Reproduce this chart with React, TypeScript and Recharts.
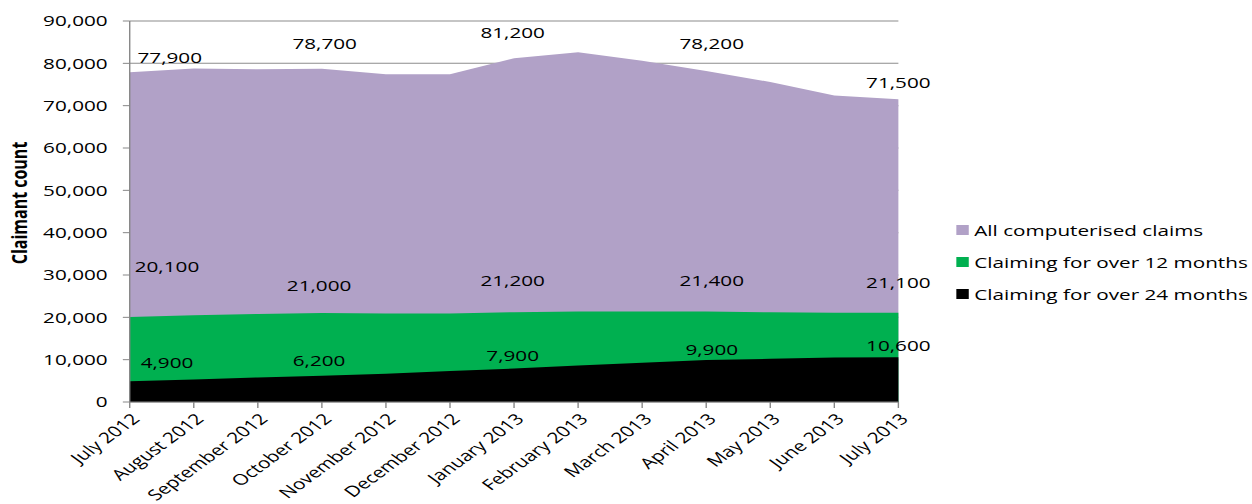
import React from 'react'
import { AreaChart, Area, XAxis, YAxis, CartesianGrid, LabelList } from 'recharts'

// --- data ---
const MONTHS = [
  'July 2012',
  'August 2012',
  'September 2012',
  'October 2012',
  'November 2012',
  'December 2012',
  'January 2013',
  'February 2013',
  'March 2013',
  'April 2013',
  'May 2013',
  'June 2013',
  'July 2013',
]

const ALL_CLAIMS = [77900, 78800, 78600, 78700, 77400, 77400, 81200, 82600, 80600, 78200, 75600, 72400, 71500]
const OVER_12_MONTHS = [20100, 20500, 20800, 21000, 20900, 20900, 21200, 21400, 21400, 21400, 21200, 21100, 21100]
const OVER_24_MONTHS = [4900, 5300, 5800, 6200, 6700, 7300, 7900, 8600, 9300, 9900, 10200, 10500, 10600]

const LABELLED_POINTS = [0, 3, 6, 9, 12]
const Y_TICKS = [0, 10000, 20000, 30000, 40000, 50000, 60000, 70000, 80000, 90000]

// --- styling ---
// the reference picture is stretched sideways, so draw narrow and scale the whole chart in x
const STRETCH = 1.38
const WIDTH = 907
const HEIGHT = 504
const FONT = '"Open Sans", sans-serif'
const AXIS_GREY = '#868686'

const SERIES = [
  { key: 'all', name: 'All computerised claims', color: '#B1A1C7' },
  { key: 'over12', name: 'Claiming for over 12 months', color: '#00B050' },
  { key: 'over24', name: 'Claiming for over 24 months', color: '#000000' },
]

// label offsets (dx, dy of label centre from the point), one per labelled point
const LABEL_OFFSETS: Record<string, [number, number][]> = {
  all: [[29, -15], [2, -25], [-1, -26], [4, -27], [0, -17]],
  over12: [[27, -50], [-2, -27], [-1, -32], [4, -31], [0, -30]],
  over24: [[27, -19], [-2, -15], [-1, -13], [4, -10], [0, -12]],
}

const fmt = (v: number) => v.toLocaleString('en-US')

function makeLabel(seriesKey: string) {
  return (props: any) => {
    const { x, y, value, index } = props
    const slot = LABELLED_POINTS.indexOf(index)
    if (slot < 0) return null
    const [dx, dy] = LABEL_OFFSETS[seriesKey][slot]
    return (
      <text
        x={x + dx}
        y={y + dy + 5.4}
        textAnchor="middle"
        fontSize={15}
        fontFamily={FONT}
        fill="#000"
      >
        {fmt(value)}
      </text>
    )
  }
}

function MonthTick(props: any) {
  const { x, y, payload } = props
  return (
    <g transform={`translate(${x + 8},${y + 10}) rotate(-45)`}>
      <text x={0} y={0} textAnchor="end" fontSize={15} fontFamily={FONT} fill="#000">
        {payload.value}
      </text>
    </g>
  )
}

export default function App() {
  const data = MONTHS.map((month, i) => ({
    month,
    all: ALL_CLAIMS[i],
    over12: OVER_12_MONTHS[i],
    over24: OVER_24_MONTHS[i],
  }))

  return (
    <div
      style={{
        position: 'absolute',
        left: 0,
        top: 0,
        width: WIDTH,
        height: HEIGHT,
        transform: `scaleX(${STRETCH})`,
        transformOrigin: '0 0',
        fontFamily: FONT,
        background: '#fff',
      }}
    >
      <AreaChart width={WIDTH} height={HEIGHT} data={data} margin={{ top: 21, right: 256, bottom: 22, left: 0 }}>
        <CartesianGrid vertical={false} stroke="#8C8C8C" />
        <XAxis
          dataKey="month"
          interval={0}
          height={80}
          tickSize={6}
          stroke={AXIS_GREY}
          tick={<MonthTick />}
        />
        <YAxis
          width={94}
          domain={[0, 90000]}
          ticks={Y_TICKS}
          interval={0}
          tickSize={5}
          tickMargin={11}
          stroke={AXIS_GREY}
          tickFormatter={fmt}
          tick={{ fill: '#000', fontSize: 15, fontFamily: FONT }}
          label={{
            content: () => (
              <text
                x={13}
                y={203}
                transform="rotate(-90 13 203)"
                textAnchor="middle"
                dominantBaseline="central"
                fontSize={16}
                fontWeight="bold"
                fontFamily={FONT}
                fill="#000"
              >
                Claimant count
              </text>
            ),
          }}
        />
        {SERIES.map((s) => (
          <Area
            key={s.key}
            type="linear"
            dataKey={s.key}
            name={s.name}
            fill={s.color}
            fillOpacity={1}
            stroke="none"
            dot={false}
            activeDot={false}
            isAnimationActive={false}
          >
            <LabelList dataKey={s.key} content={makeLabel(s.key)} />
          </Area>
        ))}
      </AreaChart>

      <div style={{ position: 'absolute', left: 693, top: 214 }}>
        {SERIES.map((s) => (
          <div
            key={s.key}
            style={{ display: 'flex', alignItems: 'center', height: 32, marginTop: 0 }}
          >
            <span style={{ width: 9, height: 10, background: s.color, marginRight: 4, display: 'inline-block' }} />
            <span style={{ fontSize: 15, color: '#000', whiteSpace: 'nowrap', lineHeight: '20px' }}>{s.name}</span>
          </div>
        ))}
      </div>
    </div>
  )
}
